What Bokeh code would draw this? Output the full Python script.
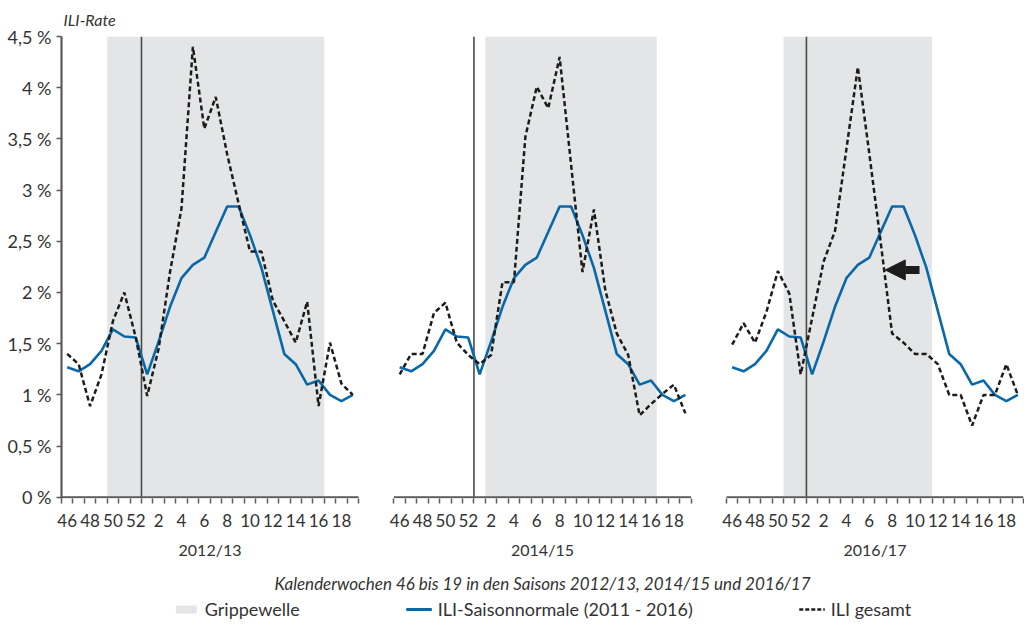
from bokeh.plotting import figure
from bokeh.layouts import column
from bokeh.models import (FixedTicker, Legend, LegendItem, LinearAxis, Range1d,
                          Arrow, NormalHead)
from bokeh.embed import file_html
from bokeh.resources import INLINE

# ---------------- data ----------------
weeks = [46, 47, 48, 49, 50, 51, 52] + list(range(1, 20))
seasons = ["2012/13", "2014/15", "2016/17"]

saisonnormale = [1.27, 1.23, 1.30, 1.43, 1.64, 1.57, 1.56, 1.20, 1.52, 1.86,
                 2.14, 2.27, 2.34, 2.59, 2.84, 2.84, 2.56, 2.24, 1.82, 1.40,
                 1.30, 1.10, 1.14, 1.00, 0.94, 1.00]

ili_2012 = [1.40, 1.30, 0.89, 1.20, 1.72, 2.00, 1.56, 0.99, 1.45, 2.20,
            2.82, 4.40, 3.60, 3.91, 3.35, 2.87, 2.40, 2.40, 1.92, 1.72,
            1.51, 1.91, 0.89, 1.51, 1.11, 1.00]
ili_2014 = [1.20, 1.40, 1.40, 1.80, 1.90, 1.51, 1.39, 1.30, 1.39, 2.10,
            2.10, 3.52, 4.01, 3.80, 4.30, 3.25, 2.20, 2.81, 2.02, 1.60,
            1.39, 0.80, 0.91, 1.01, 1.10, 0.82]
ili_2016 = [1.49, 1.70, 1.51, 1.81, 2.21, 1.99, 1.20, 1.75, 2.30, 2.60,
            3.40, 4.20, 3.36, 2.49, 1.60, 1.51, 1.40, 1.40, 1.30, 1.00,
            1.00, 0.70, 1.00, 1.00, 1.30, 1.00]
ili_series = [ili_2012, ili_2014, ili_2016]

# Grippewelle: first and last calendar week of the wave
welle_start = [50, 2, 51]
welle_end = [16, 16, 11]

# arrow in season 2016/17 (week-index units, value)
arrow_x_start = 16.9
arrow_x_end = 13.9
arrow_y = 2.22

y_ticks = [0, 0.5, 1, 1.5, 2, 2.5, 3, 3.5, 4, 4.5]
y_labels = ["0 %", "0,5 %", "1 %", "1,5 %", "2 %", "2,5 %", "3 %", "3,5 %", "4 %", "4,5 %"]

legend_labels = ["Grippewelle", "ILI-Saisonnormale (2011 - 2016)", "ILI gesamt"]

# ---------------- layout constants ----------------
N = len(weeks)
GAP = 3.1
offsets = [k * (N + GAP) for k in range(3)]
FONT = "Lato"
TXT = "#333333"
AX = "#5a5a5a"
BLUE = "#0868a8"
BLACK = "#1c1c1c"
BAND = "#e4e5e6"
DASH = "5 3"
NAN = float("nan")
LEFT = 61

p = figure(frame_width=962, frame_height=462, output_backend="svg", toolbar_location=None,
           x_range=Range1d(0, offsets[-1] + N), y_range=Range1d(-0.012, 4.5),
           min_border_left=LEFT, min_border_right=1, min_border_top=29, min_border_bottom=0,
           outline_line_color=None)
p.grid.visible = False

p.title.text = "ILI-Rate"
p.title.text_font = FONT
p.title.text_font_style = "italic"
p.title.text_font_size = "16px"
p.title.text_color = TXT
p.title.align = "left"
p.title.offset = 2
p.title.standoff = 15

for k, off in enumerate(offsets):
    b0 = off + weeks.index(welle_start[k])
    b1 = off + weeks.index(welle_end[k]) + 1
    p.quad(left=[b0], right=[b1], bottom=[0], top=[4.5], fill_color=BAND, line_color=None)
    # boundary between week 52 and week 1
    yb = off + weeks.index(1)
    p.segment(x0=[yb], x1=[yb], y0=[-0.012], y1=[4.5], line_color="#4a4a4a", line_width=1.6)
    # baseline of each panel
    p.segment(x0=[off], x1=[off + N], y0=[0], y1=[0], line_color=AX, line_width=2.2)

    xs = [off + i + 0.5 for i in range(N)]
    p.line(xs, saisonnormale, line_color=BLUE, line_width=2.6)
    p.line(xs, ili_series[k], line_color=BLACK, line_width=2.5, line_dash=DASH)

p.add_layout(Arrow(end=NormalHead(size=20, fill_color=BLACK, line_color=BLACK, line_width=1),
                   x_start=offsets[2] + arrow_x_start, x_end=offsets[2] + arrow_x_end,
                   y_start=arrow_y, y_end=arrow_y, line_color=BLACK, line_width=8))

# y axis
ya = p.yaxis[0]
ya.ticker = FixedTicker(ticks=y_ticks)
ya.major_label_overrides = {float(t): l for t, l in zip(y_ticks, y_labels)}
ya.minor_tick_out = 0
ya.minor_tick_in = 0
ya.major_tick_in = 0
ya.major_tick_out = 5
ya.major_tick_line_width = 1.6
ya.major_tick_line_color = AX
ya.axis_line_width = 2.2
ya.axis_line_color = AX
ya.major_label_text_font = FONT
ya.major_label_text_font_size = "18px"
ya.major_label_text_color = TXT
ya.major_label_standoff = 5

# week axis
label_pos = []
label_txt = []
minor_pos = []
for off in offsets:
    for i in range(0, N, 2):
        label_pos.append(off + i + 0.5)
        label_txt.append(str(weeks[i]))
    for i in range(N + 1):
        minor_pos.append(off + i)
xa = p.xaxis[0]
xa.ticker = FixedTicker(ticks=label_pos, minor_ticks=minor_pos)
xa.major_label_overrides = {float(a): b for a, b in zip(label_pos, label_txt)}
xa.axis_line_color = None
xa.major_tick_out = 0
xa.major_tick_in = 0
xa.minor_tick_out = 5
xa.minor_tick_in = 0
xa.minor_tick_line_width = 1.5
xa.minor_tick_line_color = AX
xa.major_label_standoff = 10
xa.major_label_text_font = FONT
xa.major_label_text_font_size = "17px"
xa.major_label_text_color = TXT

# season axis
season_pos = [off + N / 2 for off in offsets]
sa = LinearAxis(ticker=FixedTicker(ticks=season_pos, minor_ticks=[]),
                major_label_overrides={float(a): b for a, b in zip(season_pos, seasons)})
sa.axis_line_color = None
sa.major_tick_out = 0
sa.major_tick_in = 0
sa.minor_tick_out = 0
sa.minor_tick_in = 0
sa.major_label_standoff = 10
sa.major_label_text_font = FONT
sa.major_label_text_font_size = "16px"
sa.major_label_text_color = TXT
sa.axis_label = "Kalenderwochen 46 bis 19 in den Saisons 2012/13, 2014/15 und 2016/17"
sa.axis_label_text_font = FONT
sa.axis_label_text_font_style = "italic"
sa.axis_label_text_font_size = "17px"
sa.axis_label_text_color = TXT
sa.axis_label_standoff = 11
p.add_layout(sa, "below")

# legend strip
p2 = figure(frame_width=962, frame_height=26, output_backend="svg", toolbar_location=None,
            x_range=Range1d(0, 1), y_range=Range1d(0, 1),
            x_axis_location=None, y_axis_location=None,
            min_border_left=LEFT, min_border_right=1, min_border_top=0, min_border_bottom=0,
            outline_line_color=None)
p2.grid.visible = False
g1 = p2.quad(left=[NAN], right=[NAN], bottom=[NAN], top=[NAN], fill_color=BAND, line_color=None)
g2 = p2.line(x=[NAN, NAN], y=[NAN, NAN], line_color=BLUE, line_width=3)
g3 = p2.line(x=[NAN, NAN], y=[NAN, NAN], line_color=BLACK, line_width=2.4, line_dash="4 2")
legend = Legend(items=[LegendItem(label=legend_labels[0], renderers=[g1]),
                       LegendItem(label=legend_labels[1], renderers=[g2]),
                       LegendItem(label=legend_labels[2], renderers=[g3])],
                orientation="horizontal", location="center", spacing=106,
                border_line_color=None, background_fill_alpha=0,
                label_text_font=FONT, label_text_font_size="18px", label_text_color=TXT,
                glyph_width=26, glyph_height=10, label_standoff=6, padding=0, margin=0)
p2.add_layout(legend)

layout = column(p, p2, spacing=0)
open("out.html", "w").write(file_html(layout, INLINE))
